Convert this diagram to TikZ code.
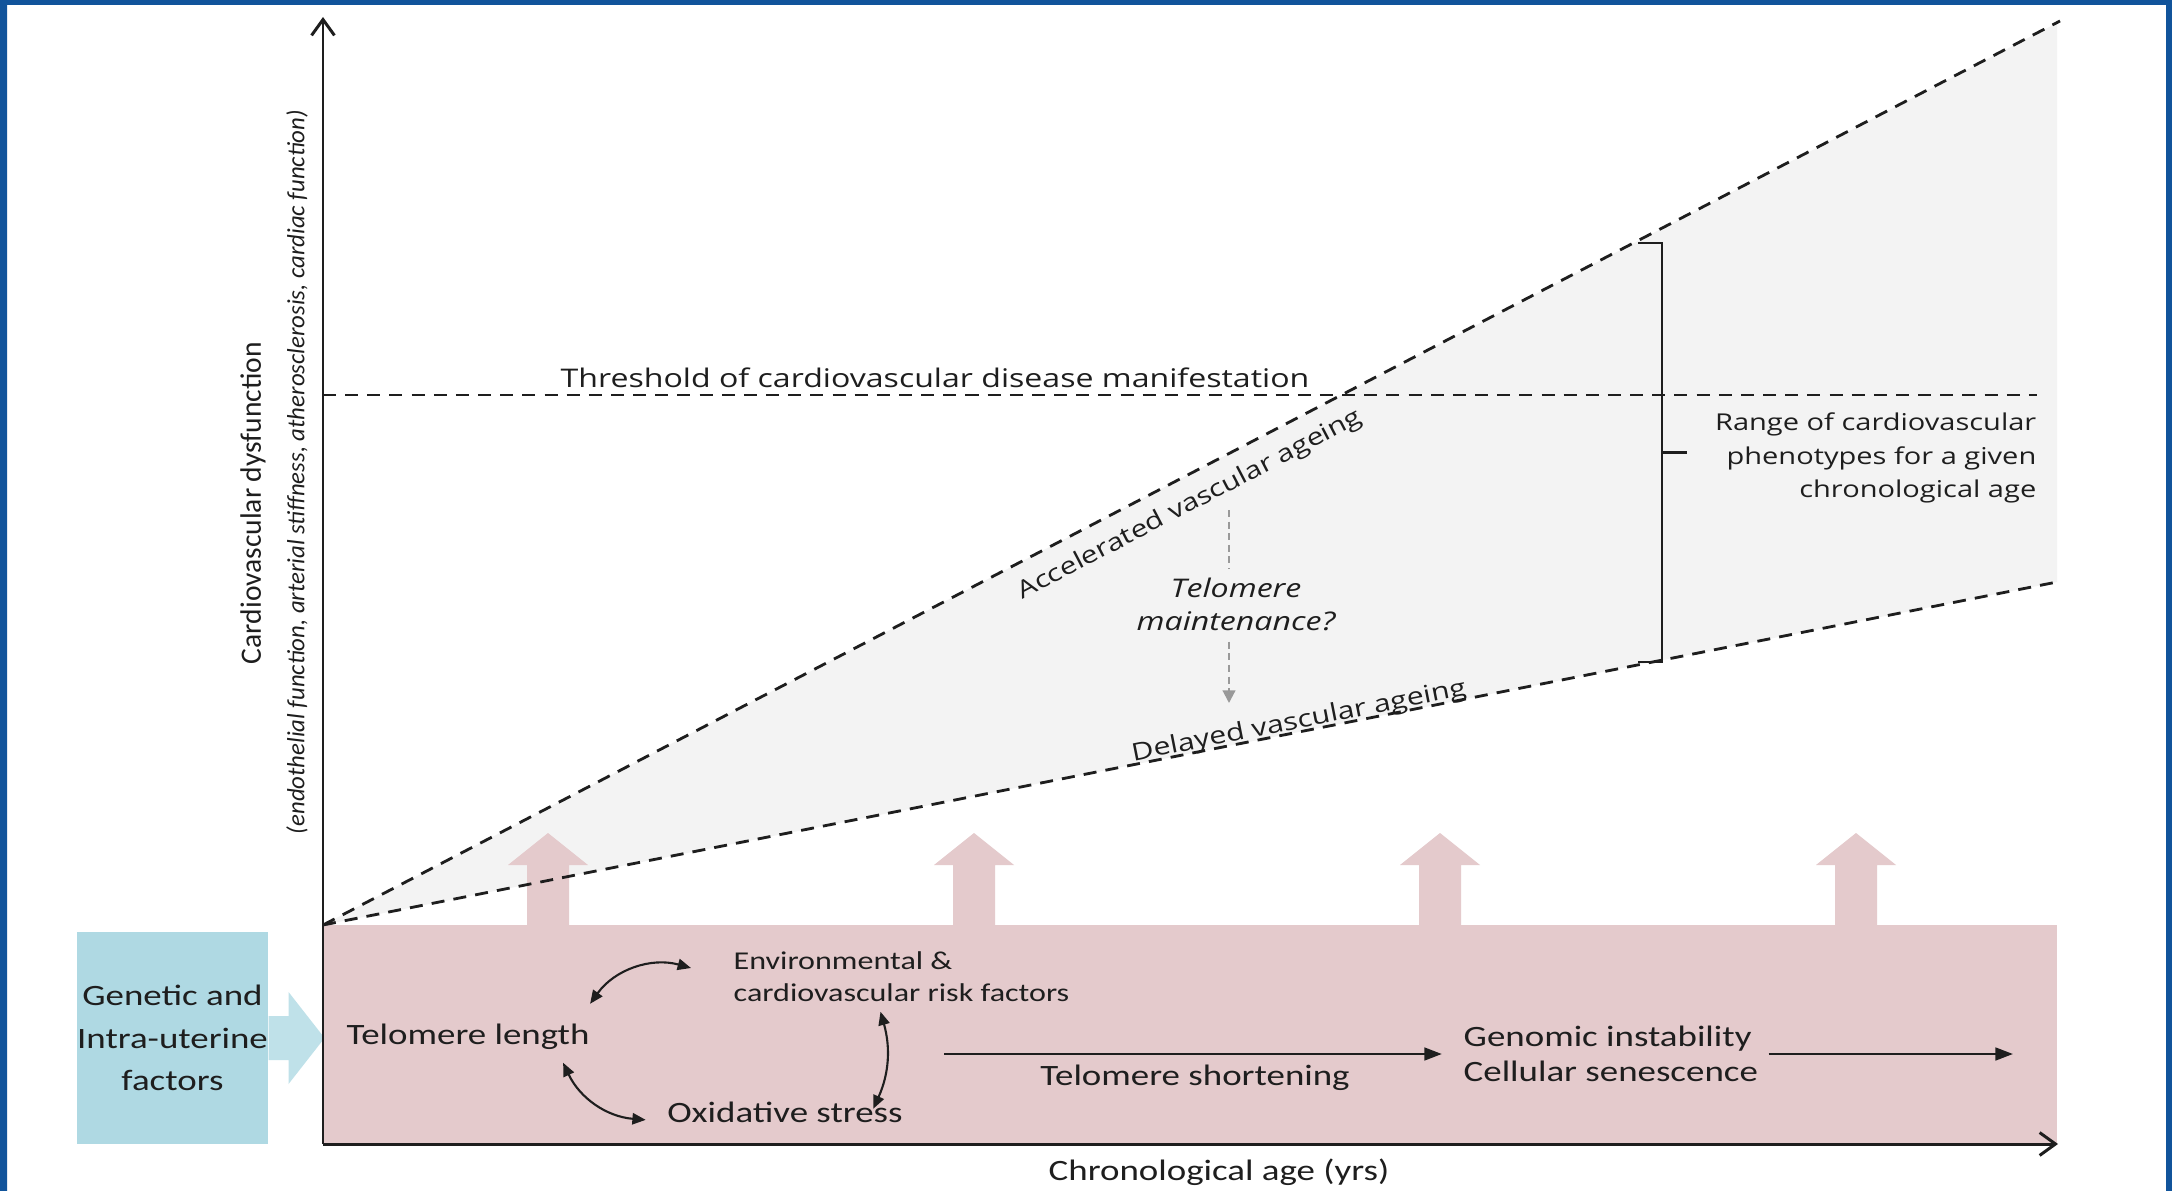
\documentclass[tikz,border=0pt]{standalone}
\usepackage{fontspec}
\setmainfont{Carlito}[FakeStretch=1.25]
\newfontfamily\plaincal{Carlito}
\newfontfamily\opsans{Open Sans}[FakeStretch=1.25]
\usetikzlibrary{arrows.meta,positioning,calc}
\definecolor{frameblue}{RGB}{17,84,155}
\definecolor{bandpink}{RGB}{228,202,204}
\definecolor{genblue}{RGB}{175,217,227}
\definecolor{conegray}{RGB}{243,243,243}
\definecolor{inkgray}{RGB}{30,30,30}

\begin{document}
\begin{tikzpicture}[
    x=0.01cm, y=-0.01cm,
    txt/.style={inner sep=0pt, text=inkgray, font=\fontsize{8.4}{12.1}\selectfont},
    sans/.style={inner sep=0pt, text=inkgray, font=\opsans\fontsize{6.6}{9.6}\selectfont},
    cone/.style={dash pattern=on 3.7pt off 2.6pt, line width=0.8pt, inkgray},
    axis/.style={line width=0.85pt, inkgray, -{Straight Barb[length=4.5pt,width=6.5pt]}},
    flow/.style={line width=0.75pt, inkgray, -{Triangle[length=5pt,width=3.6pt]}},
    twoway/.style={line width=0.6pt, inkgray, {Triangle[length=3.8pt,width=3.2pt]}-{Triangle[length=3.8pt,width=3.2pt]}},
    maintline/.style={dash pattern=on 2pt off 1.3pt, line width=0.6pt, black!40},
    genbox/.style={fill=genblue, minimum width=1.89cm, minimum height=2.12cm, inner sep=0pt, align=center, text=inkgray, font=\fontsize{8.4}{12.1}\selectfont}
]
    \fill[white] (0,0) rectangle (2172,1191);
    \useasboundingbox (0,0) rectangle (2172,1191);
    \fill[frameblue] (0,0) rectangle (7,1191) (0,0) rectangle (2172,5) (2166,0) rectangle (2172,1191);

    % range of vascular ageing
    \coordinate (O) at (323,925);
    \coordinate (accEnd) at (2060,21);
    \coordinate (delEnd) at (2057,582);
    \fill[conegray] (O) -- (2057,23) -- (delEnd) -- cycle;

    % life course band
    \fill[bandpink] (323,925) rectangle (2057,1144);
    \foreach \x in {548,974,1440,1856} {
        \fill[bandpink] (\x-21,930) -- (\x-21,865) -- (\x-40,865) -- (\x,833) -- (\x+40,865) -- (\x+21,865) -- (\x+21,930) -- cycle;
    }

    \node[genbox] (genetic) at (172.5,1038) {Genetic and\\Intra-uterine\\factors};
    \fill[genblue!80] ([shift={(0,-22)}]genetic.east) -- ++(20,0) -- ++(0,-24) -- ++(36,46) -- ++(-36,46) -- ++(0,-24) -- ++(-20,0) -- cycle;

    \draw[cone] (O) -- (accEnd);
    \draw[cone] (O) -- (delEnd);
    \draw[cone] (323,395) -- (2037,395);

    \coordinate (orig) at (323,1144);
    \draw[axis] (orig) -- (323,17);
    \draw[axis] (orig) -- (2058,1144);

    \coordinate (brTop) at (1662,243);
    \coordinate (brBot) at (1662,662);
    \draw[line width=0.7pt, inkgray] (1638,243) -- (brTop) -- (brBot) -- (1638,662);
    \draw[line width=0.7pt, inkgray] ($(brTop)!0.5!(brBot)$) -- ++(25,0);

    % labels of the chart
    \node[sans, font=\opsans\fontsize{7.3}{9.6}\selectfont, anchor=base] (thr) at (935,387) {Threshold of cardiovascular disease manifestation};
    \node[sans, anchor=east, align=right] (range) at (2037,458) {Range of cardiovascular\\phenotypes for a given\\chronological age};
    \node[sans, font=\opsans\fontsize{6.8}{9.6}\selectfont, rotate=27.5] (acc) at (1190,505) {Accelerated vascular ageing};
    \node[sans, font=\opsans\fontsize{6.9}{9.6}\selectfont, rotate=11.2] (del) at (1299,722) {Delayed vascular ageing};
    \node[sans, font=\opsans\itshape\fontsize{7.3}{9.4}\selectfont, align=center] (maint) at (1236,604) {Telomere\\maintenance?};
    \coordinate (maintTop) at (1229,510);
    \coordinate (maintTip) at (1229,703);
    \draw[maintline] (maintTop) -- ([yshift=2.5pt]maintTop |- maint.north);
    \draw[maintline, -{Triangle[length=3.6pt,width=3.6pt]}] ([yshift=-3pt]maintTop |- maint.south) -- (maintTip);

    \node[txt, font=\plaincal\fontsize{8.4}{10}\selectfont, rotate=90] (ylab) at (253,503) {Cardiovascular dysfunction};
    \node[txt, font=\plaincal\itshape\fontsize{7.05}{9}\selectfont, rotate=90] (ysub) at (297,472) {(endothelial function, arterial stiffness, atherosclerosis, cardiac function)};
    \node[txt, anchor=base] (chron) at (1219,1180) {Chronological age (yrs)};

    % inside the band
    \node[txt, anchor=base] (tl) at (468,1044) {Telomere length};
    \node[txt, font=\fontsize{7.3}{9.1}\selectfont, anchor=west, align=left] (env) at (733,977) {Environmental \&\\cardiovascular risk factors};
    \node[txt, anchor=base] (ox) at (785,1122) {Oxidative stress};
    \node[txt, anchor=base] (short) at (1195,1085) {Telomere shortening};
    \node[txt, font=\fontsize{8.4}{10}\selectfont, anchor=west, align=left] (gen) at (1463,1054) {Genomic instability\\Cellular senescence};

    \draw[twoway] ([shift={(0,-19)}]tl.north east) to[bend left=35] ([shift={(-42,-9)}]env.west);
    \draw[twoway] ([shift={(-21,9)}]env.south) to[bend left=20] ([shift={(-30,8)}]ox.north east);
    \draw[twoway] ([shift={(-27,13)}]tl.south east) to[bend right=30] ([shift={(-21,8)}]ox.west);

    \coordinate (shortStart) at (944,1054);
    \coordinate (senEnd) at (2013,1054);
    \draw[flow, shorten >=6pt] (shortStart) -- (shortStart -| gen.west);
    \draw[flow] (shortStart -| gen.east) ++(10,0) -- (senEnd);
\end{tikzpicture}
\end{document}
